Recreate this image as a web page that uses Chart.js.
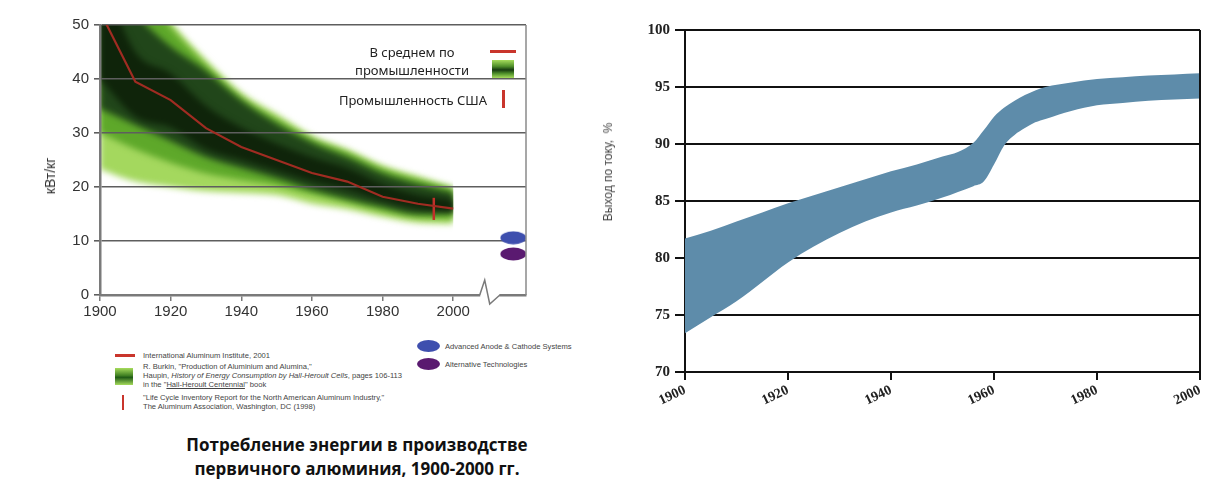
<!DOCTYPE html>
<html>
<head>
<meta charset="utf-8">
<script src="https://cdn.jsdelivr.net/npm/chart.js@4.4.1/dist/chart.umd.min.js"></script>
<style>
  html, body { margin:0; padding:0; background:#fff; }
  body { width:1229px; height:483px; position:relative; overflow:hidden; font-family:"Liberation Sans", Arial, sans-serif; }
  canvas { position:absolute; }
  .abs { position:absolute; white-space:nowrap; }
  .src { font-size:7.6px; color:#444; line-height:9px; }
  .leg { font-family:"Noto Sans", sans-serif; font-size:13px; color:#222; }
</style>
</head>
<body>
<canvas id="energy" width="570" height="330" style="left:0;top:0"></canvas>
<canvas id="efficiency" width="639" height="420" style="left:590px;top:0"></canvas>

<!-- axis titles -->
<div class="abs" style="left:50px;top:176px;transform:translate(-50%,-50%) rotate(-90deg);font-family:'Liberation Sans',sans-serif;font-size:14px;color:#333;">кВт/кг</div>
<div class="abs" style="left:608px;top:172px;transform:translate(-50%,-50%) rotate(-90deg);font-family:'Liberation Sans',sans-serif;font-size:12px;color:#444;white-space:pre;">Выход по току,  %</div>

<!-- in-plot legend -->
<div class="abs leg" style="left:412px;top:52px;transform:translate(-50%,-50%);">В среднем по</div>
<div class="abs leg" style="left:412px;top:70px;transform:translate(-50%,-50%);">промышленности</div>
<div class="abs" style="left:490px;top:50px;width:26px;height:3px;background:#c9352c;"></div>
<div class="abs" style="left:492px;top:60px;width:22px;height:18px;background:linear-gradient(#a6dc5c,#4f8f2a 35%,#163a10 55%,#4f8f2a 75%,#a6dc5c);"></div>
<div class="abs leg" style="right:742px;top:100px;transform:translateY(-50%);">Промышленность США</div>
<div class="abs" style="left:502px;top:90px;width:3px;height:18px;background:#c9352c;"></div>

<!-- sources legend -->
<div class="abs" style="left:115px;top:354px;width:20px;height:3px;background:#c9352c;"></div>
<div class="abs src" style="left:143px;top:351px;">International Aluminum Institute, 2001</div>
<div class="abs" style="left:115px;top:368px;width:18px;height:17px;background:linear-gradient(#a6dc5c,#3f7f22 45%,#1f5a16 55%,#a6dc5c);"></div>
<div class="abs src" style="left:143px;top:362px;">R. Burkin, "Production of Aluminium and Alumina,"<br>Haupin, <i>History of Energy Consumption by Hall-Heroult Cells</i>, pages 106-113<br>in the "<u>Hall-Heroult Centennial</u>" book</div>
<div class="abs" style="left:122px;top:395px;width:2px;height:15px;background:#c9352c;"></div>
<div class="abs src" style="left:143px;top:393px;">"Life Cycle Inventory Report for the North American Aluminum Industry,"<br>The Aluminum Association, Washington, DC (1998)</div>
<div class="abs" style="left:417px;top:340px;width:23px;height:12px;border-radius:50%;background:#3e4fae;"></div>
<div class="abs src" style="left:445px;top:342px;">Advanced Anode &amp; Cathode Systems</div>
<div class="abs" style="left:417px;top:358px;width:23px;height:12px;border-radius:50%;background:#5a1a70;"></div>
<div class="abs src" style="left:445px;top:360px;">Alternative Technologies</div>

<!-- caption -->
<div class="abs" style="left:157px;top:433px;width:400px;text-align:center;font-family:'Open Sans','Noto Sans',sans-serif;font-weight:700;font-size:17px;line-height:24px;color:#111;white-space:normal;">Потребление энергии в производстве<br>первичного алюминия, 1900-2000 гг.</div>

<script>
// ---------- Left chart data: energy consumption, kWh/kg ----------
const energyYears   = [1900, 1910, 1920, 1930, 1940, 1950, 1960, 1970, 1980, 1990, 2000];
const iaiAverage    = [52.5, 39.5, 36.1, 30.9, 27.4, 25.0, 22.6, 21.0, 18.2, 16.9, 16.0];
const outerUpper    = [60, 58, 50.5, 43.5, 37.5, 33.5, 29.5, 27.0, 24.0, 22.0, 20.0];
const outerLower    = [23.3, 21.0, 20.0, 19.2, 18.9, 18.5, 16.9, 15.9, 14.5, 13.4, 13.2];
const midUpper      = [60, 57.5, 49.5, 42.5, 36.5, 32.5, 28.8, 26.3, 23.3, 21.3, 19.6];
const midLower      = [30.0, 27.0, 24.5, 22.5, 21.3, 20.3, 18.7, 17.2, 15.6, 14.4, 14.1];
const coreUpper     = [60, 52.0, 46.0, 41.5, 36.0, 31.7, 28.2, 25.5, 22.5, 20.5, 18.9];
const coreLower     = [34.5, 31.5, 28.5, 25.5, 23.5, 21.6, 19.5, 17.8, 16.3, 15.0, 15.2];
const innerUpper    = [60, 45.0, 41.0, 35.0, 31.0, 28.0, 25.5, 23.5, 20.5, 18.5, 17.5];
const innerLower    = [40.0, 33.0, 31.0, 27.0, 25.0, 23.0, 21.0, 19.5, 17.5, 16.0, 15.5];
const usIndustryYear  = 1994.5;
const usIndustryRange = [13.9, 18.0];
const futureTechYear  = 2017;
const advancedAnodeValue  = 10.6;
const alternativeTechValue = 7.6;
const energyTicksX = [1900, 1920, 1940, 1960, 1980, 2000];
const energyTicksY = [0, 10, 20, 30, 40, 50];

// ---------- Right chart data: current efficiency, % ----------
const efficiencyYears = [1900,1905,1910,1915,1920,1925,1930,1935,1940,1945,1950,1953,1956,1958,1960,1962,1964,1966,1968,1970,1975,1980,1985,1990,1995,2000];
const efficiencyUpper = [81.7,82.4,83.2,84.0,84.8,85.5,86.2,86.9,87.6,88.2,88.9,89.3,90.1,91.2,92.4,93.2,93.8,94.3,94.7,95.0,95.4,95.7,95.85,96.0,96.1,96.2];
const efficiencyLower = [73.4,74.8,76.2,77.9,79.6,81.0,82.2,83.2,84.0,84.6,85.3,85.8,86.3,86.7,88.2,89.9,90.8,91.4,91.9,92.2,92.9,93.4,93.6,93.8,93.9,94.0];
const efficiencyTicksX = [1900, 1920, 1940, 1960, 1980, 2000];
const efficiencyTicksY = [70, 75, 80, 85, 90, 95, 100];

const toXY = (xs, ys) => xs.map((x, i) => ({x: x, y: ys[i]}));

function ellipseCanvas(color) {
  const c = document.createElement('canvas');
  c.width = 27; c.height = 14;
  const g = c.getContext('2d');
  g.fillStyle = color;
  g.beginPath();
  g.ellipse(13.5, 7, 13, 6.5, 0, 0, Math.PI * 2);
  g.fill();
  return c;
}

function band(label, data, color, fill) {
  return {
    label: label, data: data, borderWidth: 0, pointRadius: 0,
    backgroundColor: color, fill: fill,
    tension: 0.4, cubicInterpolationMode: 'monotone'
  };
}

// Soft edges for the gradient band (blur only the area fills)
const blurPlugin = {
  id: 'blurBand',
  beforeRender(chart) { chart.ctx.filter = 'blur(3px)'; },
  beforeDraw(chart) { chart.ctx.filter = 'none'; }
};

const energyDecor = {
  id: 'energyDecor',
  afterDraw(chart) {
    const ctx = chart.ctx, a = chart.chartArea, xs = chart.scales.x;
    ctx.save();
    ctx.strokeStyle = '#8a8a8a'; ctx.lineWidth = 1.5;
    ctx.beginPath(); ctx.moveTo(a.right, a.top); ctx.lineTo(a.right, a.bottom); ctx.stroke();
    // axis break
    const x1 = xs.getPixelForValue(2007.5), x2 = xs.getPixelForValue(2013.2);
    ctx.fillStyle = '#fff';
    ctx.fillRect(x1 + 0.5, a.bottom - 3, x2 - x1 - 1, 6);
    ctx.strokeStyle = '#7a7a7a'; ctx.lineWidth = 1.5;
    ctx.beginPath();
    ctx.moveTo(x1, a.bottom);
    ctx.lineTo(x1 + 5, a.bottom - 15);
    ctx.lineTo(x1 + 10, a.bottom + 9);
    ctx.lineTo(x2, a.bottom);
    ctx.stroke();
    ctx.restore();
  }
};

new Chart(document.getElementById('energy'), {
  type: 'line',
  data: {
    datasets: [
      { label: 'International Aluminum Institute', data: toXY(energyYears, iaiAverage),
        borderColor: '#a02c22', borderWidth: 2.2, pointRadius: 0, fill: false, tension: 0 },
      { label: 'US industry', data: [{x: usIndustryYear, y: usIndustryRange[0]}, {x: usIndustryYear, y: usIndustryRange[1]}],
        borderColor: '#c0302a', borderWidth: 2.5, pointRadius: 0, fill: false },
      { label: 'Advanced Anode & Cathode Systems', data: [{x: futureTechYear, y: advancedAnodeValue}],
        showLine: false, pointStyle: ellipseCanvas('#3e4fae'), pointRadius: 7, fill: false },
      { label: 'Alternative Technologies', data: [{x: futureTechYear, y: alternativeTechValue}],
        showLine: false, pointStyle: ellipseCanvas('#5a1a70'), pointRadius: 7, fill: false },
      band('inner upper', toXY(energyYears, innerUpper), '#0f240a', '+1'),
      band('inner lower', toXY(energyYears, innerLower), 'transparent', false),
      band('core upper', toXY(energyYears, coreUpper), '#21461a', '+1'),
      band('core lower', toXY(energyYears, coreLower), 'transparent', false),
      band('mid upper', toXY(energyYears, midUpper), '#5ea82a', '+1'),
      band('mid lower', toXY(energyYears, midLower), 'transparent', false),
      band('outer upper', toXY(energyYears, outerUpper), '#a4d85e', '+1'),
      band('outer lower', toXY(energyYears, outerLower), 'transparent', false)
    ]
  },
  options: {
    responsive: false, animation: false,
    layout: { padding: { top: 25, right: 44, bottom: 0, left: 0 } },
    plugins: { legend: { display: false }, tooltip: { enabled: false },
               filler: { propagate: false, drawTime: 'beforeDraw' } },
    scales: {
      x: {
        type: 'linear', min: 1900, max: 2020.6,
        afterBuildTicks: s => { s.ticks = energyTicksX.map(v => ({value: v})); },
        afterFit: s => { s.height = 35; },
        grid: { drawOnChartArea: false, drawTicks: true, tickLength: 6, color: '#7a7a7a', lineWidth: 1.5 },
        border: { color: '#7a7a7a', width: 2.5 },
        ticks: { font: { family: 'Liberation Sans', size: 15 }, color: '#333', padding: 2, maxRotation: 0, callback: v => String(v) }
      },
      y: {
        min: 0, max: 50,
        afterBuildTicks: s => { s.ticks = energyTicksY.map(v => ({value: v})); },
        afterFit: s => { s.width = 100; },
        grid: { color: '#5e5e5e', lineWidth: 1.6, tickLength: 6 },
        border: { color: '#7a7a7a', width: 2.5 },
        ticks: { font: { family: 'Liberation Sans', size: 15 }, color: '#333', padding: 5, callback: v => String(v) }
      }
    }
  },
  plugins: [blurPlugin, energyDecor]
});

const effDecor = {
  id: 'effDecor',
  afterDraw(chart) {
    const ctx = chart.ctx, a = chart.chartArea;
    ctx.save();
    ctx.strokeStyle = '#111'; ctx.lineWidth = 2;
    ctx.beginPath(); ctx.moveTo(a.right, a.top); ctx.lineTo(a.right, a.bottom); ctx.stroke();
    ctx.restore();
  }
};

new Chart(document.getElementById('efficiency'), {
  type: 'line',
  data: {
    datasets: [
      { label: 'upper', data: toXY(efficiencyYears, efficiencyUpper), borderWidth: 0, pointRadius: 0,
        backgroundColor: '#5e8caa', fill: '+1', tension: 0.4, cubicInterpolationMode: 'monotone' },
      { label: 'lower', data: toXY(efficiencyYears, efficiencyLower), borderWidth: 0, pointRadius: 0,
        backgroundColor: 'transparent', fill: false, tension: 0.4, cubicInterpolationMode: 'monotone' }
    ]
  },
  options: {
    responsive: false, animation: false,
    layout: { padding: { top: 30, right: 29, bottom: 0, left: 0 } },
    plugins: { legend: { display: false }, tooltip: { enabled: false }, filler: { propagate: false } },
    scales: {
      x: {
        type: 'linear', min: 1900, max: 2000,
        afterBuildTicks: s => { s.ticks = efficiencyTicksX.map(v => ({value: v})); },
        afterFit: s => { s.height = 48; },
        grid: { drawOnChartArea: false, drawTicks: true, tickLength: 8, color: '#111', lineWidth: 2 },
        border: { color: '#111', width: 2 },
        ticks: { font: { family: 'Liberation Serif', size: 14, weight: 'bold' }, color: '#222', padding: 2,
                 minRotation: 25, maxRotation: 25, callback: v => String(v) }
      },
      y: {
        min: 70, max: 100, z: 1,
        afterBuildTicks: s => { s.ticks = efficiencyTicksY.map(v => ({value: v})); },
        afterFit: s => { s.width = 95; },
        grid: { color: '#111', lineWidth: 2, tickLength: 10 },
        border: { color: '#111', width: 2 },
        ticks: { font: { family: 'Liberation Serif', size: 15, weight: 'bold' }, color: '#222', padding: 5, callback: v => String(v) }
      }
    }
  },
  plugins: [effDecor]
});
</script>
</body>
</html>
